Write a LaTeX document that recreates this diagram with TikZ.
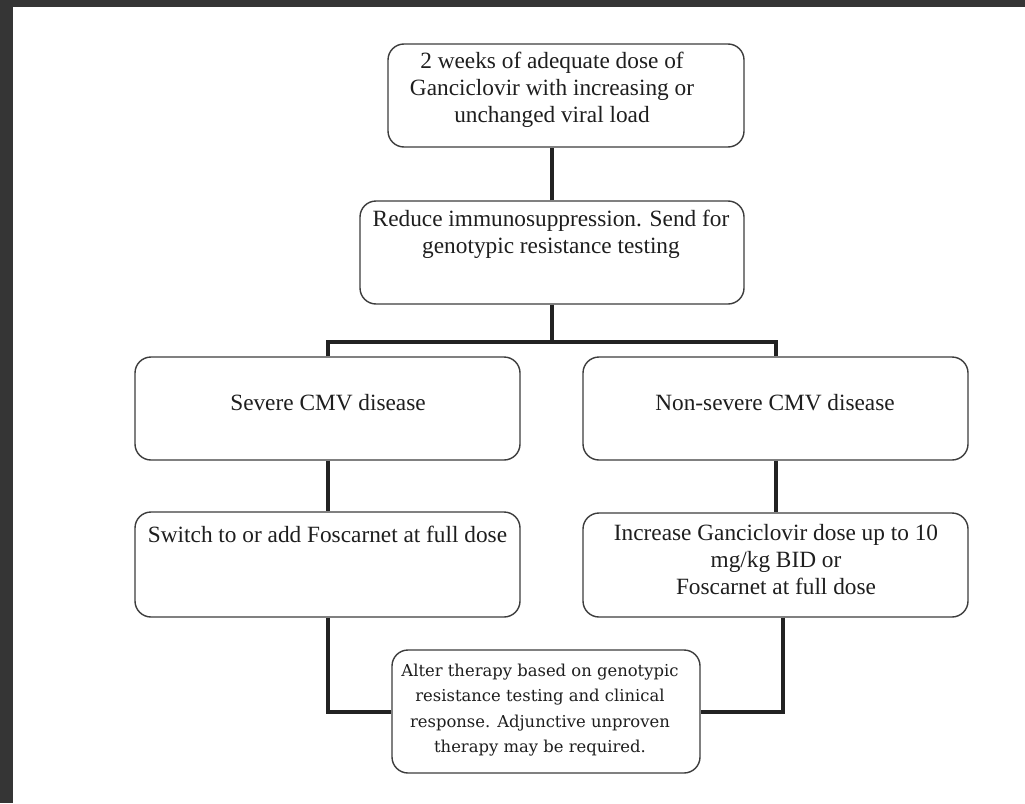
\documentclass[tikz,border=0pt]{standalone}
\usepackage{fontspec}
\setmainfont{Liberation Serif}
\newfontfamily\altserif{DejaVu Serif}
\definecolor{frame}{HTML}{353535}
\definecolor{boxline}{HTML}{3C3C3C}
\definecolor{conline}{HTML}{222222}
\definecolor{txt}{HTML}{1E1E1E}
\begin{document}
\begin{tikzpicture}[x=1pt,y=1pt,
  box/.style={draw=boxline, line width=1.4pt, rounded corners=16pt, fill=white, inner sep=0pt},
  conn/.style={draw=conline, line width=4pt},
  label/.style={text=txt, align=center, inner sep=0pt, font=\fontsize{23.3}{27}\selectfont},
  alttext/.style={text=txt, align=center, inner sep=0pt, font=\altserif\fontsize{16.4}{25.3}\selectfont}]
\useasboundingbox (0,0) rectangle (1025,-803);
\fill[white] (0,0) rectangle (1025,-803);
\fill[frame] (0,0) rectangle (1025,-7);
\fill[frame] (0,0) rectangle (13,-803);

% boxes
\node[box, minimum width=356pt, minimum height=103pt] (b1) at (566,-95.5) {};
\node[box, minimum width=384pt, minimum height=103pt] (b2) at (552,-252.5) {};
\node[box, minimum width=385pt, minimum height=103pt] (l1) at (327.5,-408.5) {};
\node[box, minimum width=385pt, minimum height=103pt] (r1) at (775.5,-408.5) {};
\node[box, minimum width=385pt, minimum height=105pt] (l2) at (327.5,-564.5) {};
\node[box, minimum width=385pt, minimum height=104pt] (r2) at (775.5,-565) {};

% connectors
\coordinate (split) at (552,-342);
\draw[conn] (b2.north) -- (b2.north |- b1.south);
\draw[conn] (b2.south) -- (split);
\draw[conn] (l1.north) -- (l1.north |- split) -- (r1.north |- split) -- (r1.north);
\draw[conn] (l1.south) -- (l2.north);
\draw[conn] (r1.south) -- (r2.north);

\node[box, minimum width=308pt, minimum height=123pt] (b3) at (546,-711.5) {};
\draw[conn] (l2.south) |- (b3.west);
\draw[conn] ([xshift=7pt]r2.south) |- (b3.east);

% texts
\node[label] (t1) at (552,-90) {2 weeks of adequate dose of\\Ganciclovir with increasing or\\unchanged viral load};
\node[label] (t2) at (551,-234) {Reduce immunosuppression. Send for\\genotypic resistance testing};
\node[label] (tl1) at (328,-403) {Severe CMV disease};
\node[label] (tr1) at (775,-403) {Non-severe CMV disease};
\node[label] (tl2) at (327.5,-534) {Switch to or add Foscarnet at full dose};
\node[label] (tr2) at (776,-560) {Increase Ganciclovir dose up to 10\\mg/kg BID or\\Foscarnet at full dose};
\node[alttext] (t3) at (540,-710) {Alter therapy based on genotypic\\resistance testing and clinical\\response. Adjunctive unproven\\therapy may be required.};
\end{tikzpicture}
\end{document}
